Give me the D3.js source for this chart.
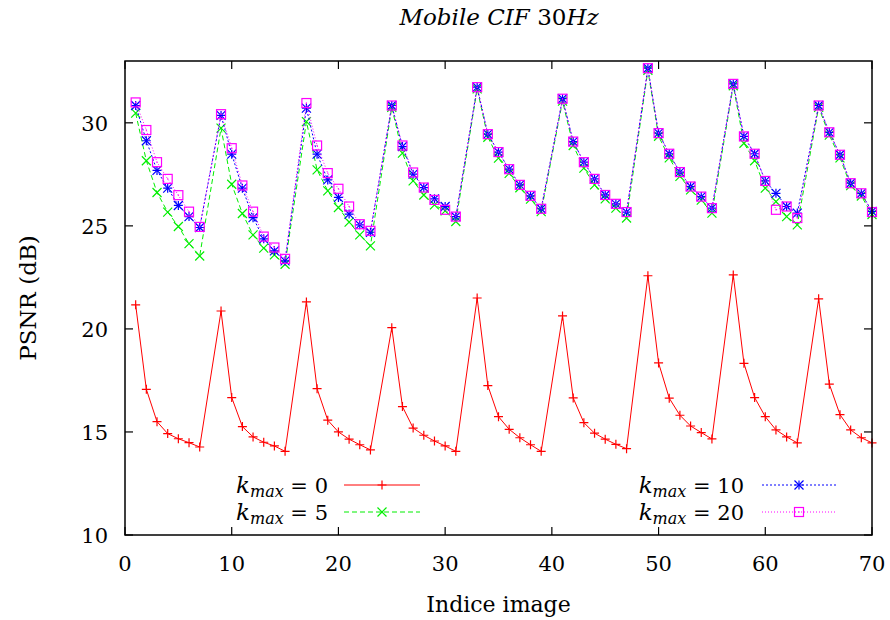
<!DOCTYPE html>
<html><head><meta charset="utf-8">
<script src="https://cdn.jsdelivr.net/npm/d3@7/dist/d3.min.js"></script>
<style>body{margin:0;background:#fff}svg{display:block}</style>
</head><body><svg id="c" width="890" height="620" font-family="'DejaVu Serif', 'Liberation Serif', serif"></svg>
<script>
const frames = [1,2,3,4,5,6,7, 9,10,11,12,13,14,15, 17,18,19,20,21,22,23, 25,26,27,28,29,30,31, 33,34,35,36,37,38,39, 41,42,43,44,45,46,47, 49,50,51,52,53,54,55, 57,58,59,60,61,62,63, 65,66,67,68,69,70];
const k0 = [21.17,17.07,15.50,14.92,14.67,14.48,14.27, 20.87,16.67,15.26,14.76,14.50,14.32,14.06, 21.31,17.10,15.57,15.00,14.65,14.38,14.13, 20.06,16.23,15.19,14.84,14.56,14.32,14.06, 21.50,17.25,15.74,15.13,14.72,14.38,14.06, 20.63,16.65,15.45,14.94,14.65,14.40,14.19, 22.58,18.35,16.64,15.81,15.29,14.97,14.66, 22.62,18.33,16.67,15.74,15.10,14.76,14.47, 21.46,17.32,15.84,15.10,14.72,14.47];
const k5 = [30.47,28.16,26.62,25.67,24.97,24.14,23.54, 29.74,27.02,25.60,24.56,23.92,23.59,23.14, 30.06,27.72,26.70,25.89,25.18,24.56,24.03, 30.75,28.53,27.18,26.50,26.02,25.73,25.21, 31.65,29.30,28.29,27.55,26.85,26.30,25.69, 31.05,28.90,27.80,26.99,26.31,25.86,25.38, 32.55,29.35,28.30,27.40,26.75,26.25,25.62, 31.80,29.01,28.16,26.83,26.18,25.45,25.05, 30.75,29.40,28.30,26.95,26.45,25.55];
const k10 = [30.84,29.13,27.69,26.83,25.99,25.45,24.92, 30.36,28.48,26.83,25.40,24.37,23.79,23.30, 30.71,28.48,27.23,26.38,25.57,25.05,24.69, 30.84,28.85,27.51,26.86,26.31,25.94,25.45, 31.73,29.45,28.58,27.75,26.99,26.46,25.83, 31.17,29.09,28.09,27.28,26.50,26.07,25.67, 32.65,29.50,28.50,27.61,26.91,26.42,25.86, 31.89,29.34,28.50,27.18,26.58,25.94,25.62, 30.84,29.54,28.45,27.07,26.58,25.70];
const k20 = [30.99,29.65,28.09,27.28,26.49,25.69,24.95, 30.42,28.77,26.96,25.69,24.48,23.95,23.40, 30.96,28.90,27.56,26.80,25.94,25.08,24.76, 30.84,28.90,27.59,26.86,26.26,25.78,25.45, 31.73,29.45,28.58,27.75,26.99,26.46,25.83, 31.17,29.09,28.09,27.28,26.50,26.07,25.67, 32.65,29.50,28.50,27.61,26.91,26.42,25.86, 31.89,29.34,28.50,27.18,25.78,25.94,25.38, 30.84,29.54,28.45,27.07,26.58,25.67];
const xTicks = [0,10,20,30,40,50,60,70];
const yTicks = [10,15,20,25,30];
const seriesNames = ["0","5","10","20"];

const svg = d3.select("#c");
const L = 125, R = 872, T = 61, B = 535;
const x = d3.scaleLinear().domain([0,70]).range([L,R]);
const y = d3.scaleLinear().domain([10,33]).range([B,T]);

const series = [
  {name:seriesNames[0], vals:k0, color:"#ff0000", dash:null, marker:"plus"},
  {name:seriesNames[1], vals:k5, color:"#00ee00", dash:"5,3", marker:"cross"},
  {name:seriesNames[2], vals:k10, color:"#0000ff", dash:"2,2", marker:"star"},
  {name:seriesNames[3], vals:k20, color:"#ff00ff", dash:"1,2", marker:"square"}
];

function marker(g, type, cx, cy, color){
  const s = 4.5;
  if(type==="plus"||type==="star"){
    g.append("path").attr("d",`M${cx-s},${cy}H${cx+s}M${cx},${cy-s}V${cy+s}`).attr("stroke",color).attr("stroke-width",1.2).attr("fill","none");
  }
  if(type==="cross"||type==="star"){
    g.append("path").attr("d",`M${cx-s},${cy-s}L${cx+s},${cy+s}M${cx-s},${cy+s}L${cx+s},${cy-s}`).attr("stroke",color).attr("stroke-width",1.2).attr("fill","none");
  }
  if(type==="square"){
    g.append("rect").attr("x",cx-s).attr("y",cy-s).attr("width",2*s).attr("height",2*s).attr("stroke",color).attr("stroke-width",1.2).attr("fill","none");
    g.append("rect").attr("x",cx-0.6).attr("y",cy-0.6).attr("width",1.2).attr("height",1.2).attr("fill",color);
  }
}

const plot = svg.append("g");
const line = d3.line().x((d,i)=>x(frames[i])).y(d=>y(d));
series.forEach(s=>{
  plot.append("path").datum(s.vals).attr("d",line).attr("fill","none").attr("stroke",s.color).attr("stroke-width",1).attr("stroke-dasharray",s.dash);
  const mg = plot.append("g");
  s.vals.forEach((v,i)=>marker(mg, s.marker, x(frames[i]), y(v), s.color));
});

// axes (ticks inward, mirrored)
const ax = svg.append("g").attr("stroke","#000").attr("fill","none");
const tl = 8;
xTicks.forEach(t=>{
  ax.append("line").attr("x1",x(t)).attr("x2",x(t)).attr("y1",B).attr("y2",B-tl).attr("stroke-width",1.2);
  ax.append("line").attr("x1",x(t)).attr("x2",x(t)).attr("y1",T).attr("y2",T+tl).attr("stroke-width",1.2);
});
yTicks.forEach(t=>{
  ax.append("line").attr("x1",L).attr("x2",L+tl).attr("y1",y(t)).attr("y2",y(t)).attr("stroke-width",1.2);
  ax.append("line").attr("x1",R).attr("x2",R-tl).attr("y1",y(t)).attr("y2",y(t)).attr("stroke-width",1.2);
});
ax.append("rect").attr("x",L).attr("y",T).attr("width",R-L).attr("height",B-T).attr("stroke-width",1.5);

const fs = 21;
svg.append("g").selectAll("text").data(xTicks).join("text")
  .attr("x",d=>x(d)).attr("y",B+36).attr("text-anchor","middle").attr("font-size",fs).text(d=>d);
svg.append("g").selectAll("text").data(yTicks).join("text")
  .attr("x",L-17).attr("y",d=>y(d)+8).attr("text-anchor","end").attr("font-size",fs).text(d=>d);

svg.append("text").attr("x",(L+R)/2).attr("y",612).attr("text-anchor","middle").attr("font-size",22).text("Indice image");
svg.append("text").attr("transform",`translate(36,${(T+B)/2}) rotate(-90)`).attr("text-anchor","middle").attr("font-size",23).text("PSNR (dB)");

const title = svg.append("text").attr("x",499).attr("y",25).attr("text-anchor","middle").attr("font-size",23);
title.append("tspan").attr("font-style","italic").text("Mobile CIF ");
title.append("tspan").text("30");
title.append("tspan").attr("font-style","italic").text("Hz");

// legend
const leg = [
  {s:series[0], tx:328, ty:493, lx1:344, lx2:420},
  {s:series[1], tx:328, ty:520, lx1:344, lx2:420},
  {s:series[2], tx:744, ty:493, lx1:762, lx2:836},
  {s:series[3], tx:744, ty:520, lx1:762, lx2:836}
];
leg.forEach(l=>{
  const t = svg.append("text").attr("x",l.tx).attr("y",l.ty).attr("text-anchor","end").attr("font-size",fs);
  t.append("tspan").attr("font-style","italic").attr("font-size",23).text("k");
  t.append("tspan").attr("font-style","italic").attr("font-size",16).attr("dy",4).text("max");
  t.append("tspan").attr("dy",-4).text(" = " + l.s.name);
  const ly = l.ty - 8;
  svg.append("line").attr("x1",l.lx1).attr("x2",l.lx2).attr("y1",ly).attr("y2",ly).attr("stroke",l.s.color).attr("stroke-width",1).attr("stroke-dasharray",l.s.dash);
  marker(svg.append("g"), l.s.marker, (l.lx1+l.lx2)/2, ly, l.s.color);
});
</script></body></html>
